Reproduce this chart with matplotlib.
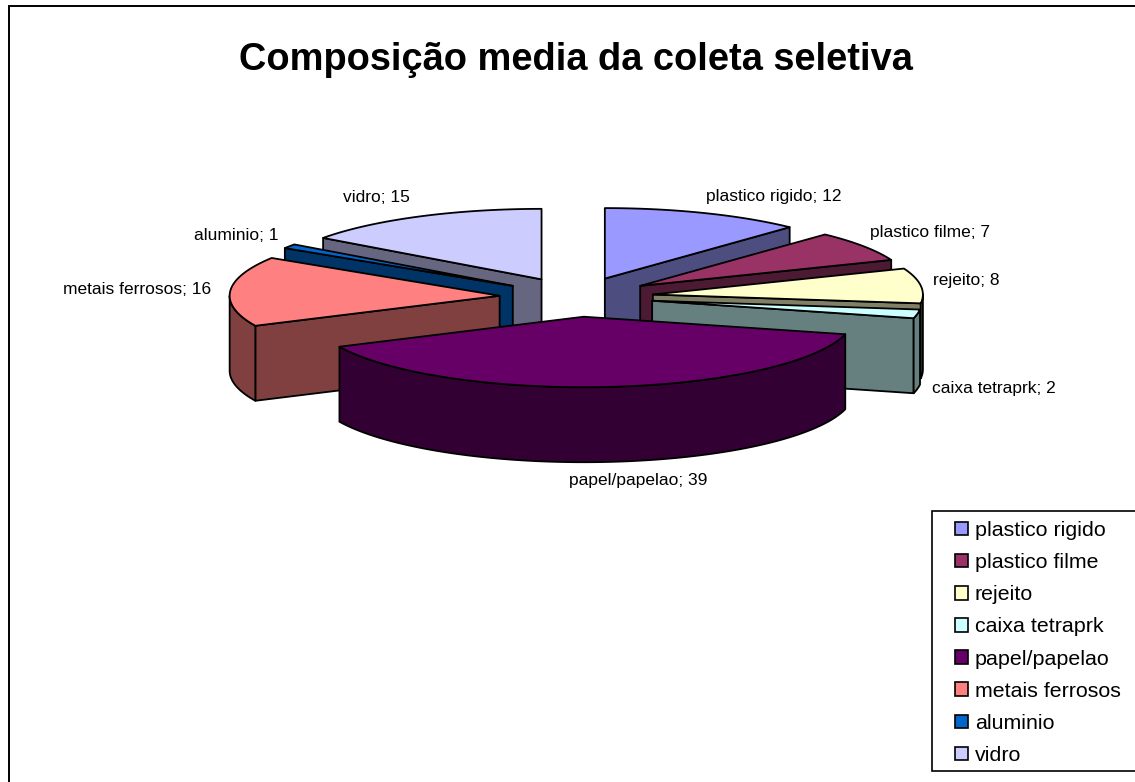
import numpy as np
import matplotlib
matplotlib.use("Agg")
import matplotlib.pyplot as plt
from matplotlib.patches import Polygon, Patch, Rectangle
from matplotlib.colors import to_rgb

categories = ["plastico rigido", "plastico filme", "rejeito", "caixa tetraprk",
              "papel/papelao", "metais ferrosos", "aluminio", "vidro"]
values = [12, 7, 8, 2, 39, 16, 1, 15]
colors = ["#9999FF", "#993366", "#FFFFCC", "#CCFFFF",
          "#660066", "#FF8080", "#0066CC", "#CCCCFF"]
title = "Composição media da coleta seletiva"

# pie geometry (pixels)
CX, CY = 576.5, 297.0
RX, RY = 270.0, 70.5
EX, EY = 77.0, 19.8
DEPTH = 75.0
LW = 1.3
label_pos = [(774, 196), (930.5, 232), (966.5, 280), (994, 389),
             (638, 480), (137.5, 289), (236, 236), (376, 198)]

plt.rcParams["font.family"] = ["Liberation Sans", "DejaVu Sans"]
fig = plt.figure(figsize=(11.35, 7.82), dpi=100, facecolor="white")
ax = fig.add_axes([0, 0, 1, 1])
ax.set_xlim(0, 1135)
ax.set_ylim(782, 0)
ax.axis("off")

total = sum(values)
edges = np.cumsum([0] + values) / total * 2 * np.pi
slices = []
for i in range(len(values)):
    t0, t1 = edges[i], edges[i + 1]
    mid = (t0 + t1) / 2
    slices.append((CY - EY * np.cos(mid), CX + EX * np.sin(mid), i, t0, t1))


def rim(ax_, ay_, t):
    return np.column_stack([ax_ + RX * np.sin(t), ay_ - RY * np.cos(t)])


def face(pts, color, z):
    ax.add_patch(Polygon(pts, closed=True, facecolor=color, edgecolor="black",
                         linewidth=LW, joinstyle="round", zorder=z))


z = 2
for ay_, ax_, i, t0, t1 in sorted(slices, key=lambda s: s[0]):
    top = to_rgb(colors[i])
    dark = tuple(c * 0.5 for c in top)
    apex = np.array([[ax_, ay_]])
    down = np.array([0, DEPTH])
    for t, visible in ((t0, np.sin(t0) < -1e-6), (t1, np.sin(t1) > 1e-6)):
        if visible:
            p = rim(ax_, ay_, np.array([t]))
            face(np.vstack([apex, p, p + down, apex + down]), dark, z)
            z += 1
    a, b = max(t0, np.pi / 2), min(t1, 3 * np.pi / 2)
    if b > a:
        arc = rim(ax_, ay_, np.linspace(a, b, 80))
        face(np.vstack([arc, arc[::-1] + down]), dark, z)
        z += 1
    arc = rim(ax_, ay_, np.linspace(t0, t1, 120))
    face(np.vstack([apex, arc]), top, z)
    z += 1

for cat, val, (x, y) in zip(categories, values, label_pos):
    ax.text(x, y, f"{cat}; {val}", ha="center", va="center", fontsize=12.5,
            color="black", zorder=200)

ax.text(575.5, 60, title, ha="center", va="center", fontsize=27.4,
        fontweight="bold", color="black", zorder=200)

# legend frame runs off the right edge of the picture
ax.add_patch(Rectangle((932, 511), 230, 260, facecolor="white", edgecolor="black",
                       linewidth=1.2, zorder=290))
handles = [Patch(facecolor=c, edgecolor="black", linewidth=1.2) for c in colors]
leg = ax.legend(handles, categories, loc="upper left",
                bbox_to_anchor=(955, 521), bbox_transform=ax.transData,
                fontsize=15.4, frameon=False, borderaxespad=0, borderpad=0,
                handlelength=0.6, handleheight=0.6, handletextpad=0.33,
                labelspacing=0.615, labelcolor="black")
leg.set_zorder(300)

ax.plot([9, 9, 1135], [782, 6, 6], color="black", linewidth=1.4, zorder=400,
        solid_joinstyle="miter")

fig.savefig("out.png", dpi=100, facecolor="white")
